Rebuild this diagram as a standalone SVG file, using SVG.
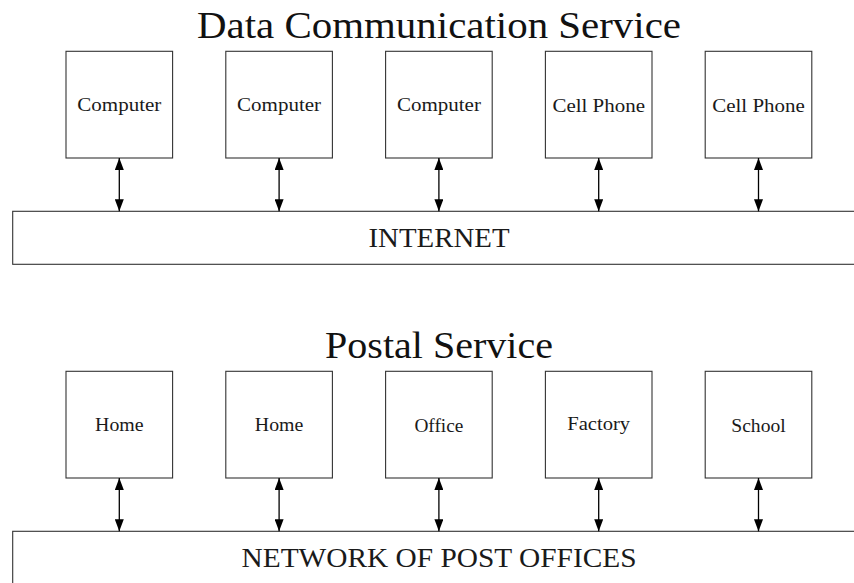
<svg xmlns="http://www.w3.org/2000/svg" width="854" height="583" viewBox="0 0 854 583">
<style>
  .box { fill: #ffffff; stroke: #333333; stroke-width: 1.1; }
  .bar { fill: #ffffff; stroke: #333333; stroke-width: 1.1; }
  text { font-family: "Liberation Serif", "Times New Roman", serif; text-anchor: middle; fill: #1a1a1a; }
  .lbl { font-size: 19.5px; }
  .title { font-size: 37px; fill: #111111; }
  .barlbl { font-size: 27px; }
  .conn { stroke: #000000; stroke-width: 1.3; fill: none; marker-start: url(#ah); marker-end: url(#ah); }
</style>
<defs>
  <marker id="ah" viewBox="0 0 12 9" refX="12" refY="4.5" markerUnits="userSpaceOnUse" markerWidth="12" markerHeight="9" orient="auto-start-reverse">
    <path d="M0,0 L12,4.5 L0,9 z" fill="#000000"/>
  </marker>
</defs>
<rect width="854" height="583" fill="#ffffff"/>

<text class="title" x="439" y="38" textLength="484" lengthAdjust="spacingAndGlyphs">Data Communication Service</text>
<text class="title" x="439" y="358" textLength="228" lengthAdjust="spacingAndGlyphs">Postal Service</text>

<g id="internet">
  <rect class="bar" x="12.7" y="211.3" width="850" height="53"/>
  <text class="barlbl" x="439" y="247" textLength="141" lengthAdjust="spacingAndGlyphs">INTERNET</text>
</g>
<g id="postnet">
  <rect class="bar" x="12.7" y="531.3" width="850" height="60"/>
  <text class="barlbl" x="439" y="567" textLength="395" lengthAdjust="spacingAndGlyphs">NETWORK OF POST OFFICES</text>
</g>

<g id="computer1">
  <rect class="box" x="66" y="51.3" width="106.6" height="106.7"/>
  <text class="lbl" x="119.3" y="111" textLength="84" lengthAdjust="spacingAndGlyphs">Computer</text>
</g>
<g id="computer2">
  <rect class="box" x="225.8" y="51.3" width="106.6" height="106.7"/>
  <text class="lbl" x="279.1" y="111" textLength="84" lengthAdjust="spacingAndGlyphs">Computer</text>
</g>
<g id="computer3">
  <rect class="box" x="385.6" y="51.3" width="106.6" height="106.7"/>
  <text class="lbl" x="438.9" y="111" textLength="84" lengthAdjust="spacingAndGlyphs">Computer</text>
</g>
<g id="cellphone1">
  <rect class="box" x="545.4" y="51.3" width="106.6" height="106.7"/>
  <text class="lbl" x="598.7" y="111.5" textLength="92.5" lengthAdjust="spacingAndGlyphs">Cell Phone</text>
</g>
<g id="cellphone2">
  <rect class="box" x="705.2" y="51.3" width="106.6" height="106.7"/>
  <text class="lbl" x="758.5" y="111.5" textLength="92.5" lengthAdjust="spacingAndGlyphs">Cell Phone</text>
</g>

<g id="home1">
  <rect class="box" x="66" y="371.3" width="106.6" height="106.7"/>
  <text class="lbl" x="119.3" y="431" textLength="48.5" lengthAdjust="spacingAndGlyphs">Home</text>
</g>
<g id="home2">
  <rect class="box" x="225.8" y="371.3" width="106.6" height="106.7"/>
  <text class="lbl" x="279.1" y="431" textLength="48.5" lengthAdjust="spacingAndGlyphs">Home</text>
</g>
<g id="office">
  <rect class="box" x="385.6" y="371.3" width="106.6" height="106.7"/>
  <text class="lbl" x="438.9" y="431.5" textLength="49" lengthAdjust="spacingAndGlyphs">Office</text>
</g>
<g id="factory">
  <rect class="box" x="545.4" y="371.3" width="106.6" height="106.7"/>
  <text class="lbl" x="598.7" y="429.5" textLength="63" lengthAdjust="spacingAndGlyphs">Factory</text>
</g>
<g id="school">
  <rect class="box" x="705.2" y="371.3" width="106.6" height="106.7"/>
  <text class="lbl" x="758.5" y="431.5" textLength="54.5" lengthAdjust="spacingAndGlyphs">School</text>
</g>

<g id="connectors">
  <line class="conn" x1="119.3" y1="158" x2="119.3" y2="211.3"/>
  <line class="conn" x1="279.1" y1="158" x2="279.1" y2="211.3"/>
  <line class="conn" x1="438.9" y1="158" x2="438.9" y2="211.3"/>
  <line class="conn" x1="598.7" y1="158" x2="598.7" y2="211.3"/>
  <line class="conn" x1="758.5" y1="158" x2="758.5" y2="211.3"/>
  <line class="conn" x1="119.3" y1="478" x2="119.3" y2="531.3"/>
  <line class="conn" x1="279.1" y1="478" x2="279.1" y2="531.3"/>
  <line class="conn" x1="438.9" y1="478" x2="438.9" y2="531.3"/>
  <line class="conn" x1="598.7" y1="478" x2="598.7" y2="531.3"/>
  <line class="conn" x1="758.5" y1="478" x2="758.5" y2="531.3"/>
</g>
</svg>
